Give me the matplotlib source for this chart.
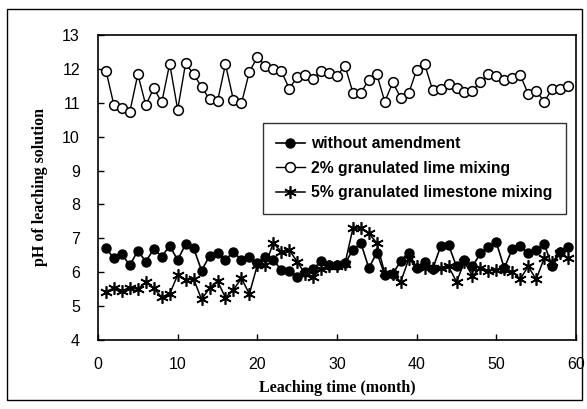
import matplotlib
matplotlib.use("Agg")
import matplotlib.pyplot as plt
from matplotlib.patches import Rectangle

months = list(range(1, 60))

without_amendment = [6.71, 6.41, 6.53, 6.20, 6.64, 6.31, 6.69, 6.46, 6.78, 6.36,
                     6.83, 6.71, 6.05, 6.48, 6.58, 6.36, 6.61, 6.36, 6.44, 6.26,
                     6.44, 6.36, 6.07, 6.05, 5.85, 6.02, 6.09, 6.33, 6.21, 6.21,
                     6.26, 6.66, 6.86, 6.12, 6.58, 5.92, 5.95, 6.33, 6.58, 6.12,
                     6.31, 6.09, 6.76, 6.81, 6.17, 6.36, 6.17, 6.56, 6.73, 6.88,
                     6.12, 6.69, 6.76, 6.56, 6.66, 6.83, 6.19, 6.59, 6.73]

lime_2pct = [11.95, 10.93, 10.86, 10.74, 11.84, 10.93, 11.43, 11.01, 12.15, 10.80,
             12.17, 11.84, 11.47, 11.10, 11.04, 12.14, 11.08, 10.98, 11.91, 12.35,
             12.09, 12.00, 11.94, 11.42, 11.75, 11.83, 11.69, 11.95, 11.88, 11.80,
             12.09, 11.30, 11.30, 11.68, 11.84, 11.03, 11.60, 11.15, 11.28, 11.97,
             12.14, 11.38, 11.40, 11.55, 11.44, 11.33, 11.36, 11.60, 11.84, 11.80,
             11.66, 11.73, 11.82, 11.26, 11.36, 11.03, 11.40, 11.41, 11.50]

limestone_5pct = [5.43, 5.53, 5.46, 5.53, 5.50, 5.71, 5.53, 5.26, 5.36, 5.92,
                  5.77, 5.80, 5.20, 5.53, 5.74, 5.25, 5.48, 5.82, 5.36, 6.21,
                  6.21, 6.86, 6.61, 6.66, 6.31, 5.95, 5.87, 6.09, 6.17, 6.17,
                  6.25, 7.30, 7.30, 7.15, 6.86, 5.97, 5.95, 5.72, 6.38, 6.17,
                  6.12, 6.12, 6.12, 6.17, 5.72, 6.30, 5.89, 6.12, 6.04, 6.07,
                  6.10, 6.02, 5.80, 6.17, 5.79, 6.41, 6.31, 6.56, 6.41]

labels = ["without amendment", "2% granulated lime mixing",
          "5% granulated limestone mixing"]
xticks = [0, 10, 20, 30, 40, 50, 60]
yticks = [4, 5, 6, 7, 8, 9, 10, 11, 12, 13]

W, H = 587, 409
fig = plt.figure(figsize=(W / 100, H / 100), dpi=100)
ax = fig.add_axes([98 / W, (H - 340) / H, (576 - 98) / W, (340 - 35) / H])

ax.plot(months, without_amendment, color="black", lw=1.2, marker="o",
        ms=6.5, mfc="black", mec="black", label=labels[0], zorder=3)
ax.plot(months, lime_2pct, color="black", lw=1.0, marker="o",
        ms=7, mfc="white", mec="black", mew=1.1, label=labels[1], zorder=3)
ax.plot(months, limestone_5pct, color="black", lw=1.1, marker=(6, 2, 0),
        ms=9, mfc="black", mec="black", mew=1.2, label=labels[2], zorder=2)

ax.set_xlim(0, 60)
ax.set_ylim(4, 13)
ax.set_xticks(xticks)
ax.set_yticks(yticks)
ax.tick_params(direction="in", length=4, width=1, top=False, right=False)
ax.tick_params(axis="x", pad=12)
ax.tick_params(axis="y", pad=13)
for lab in ax.get_xticklabels() + ax.get_yticklabels():
    lab.set_fontfamily("Liberation Sans")
    lab.set_fontsize(11.5)
for s in ax.spines.values():
    s.set_linewidth(1.2)

ax.set_xlabel("Leaching time (month)", fontfamily="Liberation Serif",
              fontweight="bold", fontsize=11.5, labelpad=6)
ax.set_ylabel("pH of leaching solution", fontfamily="Liberation Serif",
              fontweight="bold", fontsize=11.5, labelpad=10)

leg = ax.legend(loc="upper left", bbox_to_anchor=((263 - 98) / (576 - 98), (340 - 123) / 305),
                frameon=True, fancybox=False, edgecolor="black",
                prop={"family": "Liberation Sans", "size": 11.3, "weight": "bold"},
                handlelength=1.8, handletextpad=0.4, labelspacing=0.6,
                borderpad=0.85, borderaxespad=0)
leg.get_frame().set_linewidth(1.0)

fig.patches.append(Rectangle((7 / W, 9 / H), (582 - 7) / W, (400 - 9) / H,
                             transform=fig.transFigure, fill=False,
                             edgecolor="black", lw=1.0))

fig.savefig("out.png", dpi=100)
